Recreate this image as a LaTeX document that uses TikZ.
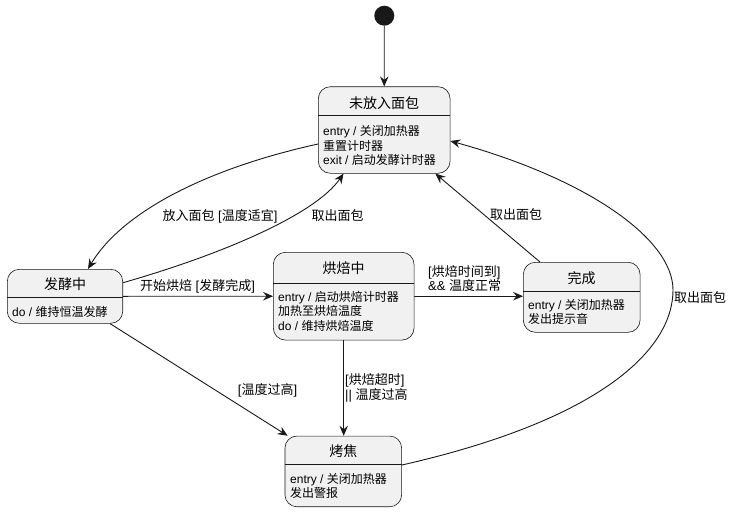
\documentclass[tikz,border=0pt]{standalone}
\usepackage{fontspec}
\setmainfont{Liberation Sans}
\newfontfamily\cjk{Noto Sans CJK SC}
\usetikzlibrary{arrows.meta}
\definecolor{boxfill}{HTML}{F1F1F1}
\definecolor{boxline}{HTML}{181818}
\tikzset{
  statebox/.style={draw=boxline, fill=boxfill, rounded corners=12pt, line width=0.6pt, inner sep=0pt},
  divider/.style={draw=boxline, line width=0.6pt},
  stitle/.style={font=\cjk\fontsize{14}{16}\selectfont, inner sep=0pt},
  sbody/.style={font=\fontsize{12}{14.5}\selectfont, align=left, anchor=north west, inner sep=0pt},
  lbl/.style={font=\fontsize{13}{14.5}\selectfont, inner sep=0pt},
  edge/.style={draw=boxline, line width=0.9pt, -{Stealth[length=10pt,width=8.5pt,inset=3.5pt]}},
}
\begin{document}
\begin{tikzpicture}[x=1pt,y=-1pt]
\useasboundingbox (0,0) rectangle (733,511);
% initial
\node[circle, fill=boxline, minimum size=20pt, inner sep=0pt] (s0) at (384.3,15.7) {};
% states
\node[statebox, minimum width=131.7pt, minimum height=86.6pt] (s1) at (384.2,130) {};
\draw[divider] (s1.west |- 0,115) -- (s1.east |- 0,115);
\node[stitle] (t1) at (384.2,102.7) {未放入面包};
\node[sbody] (b1) at (323,125.5) {entry / {\cjk 关闭加热器}\\{\cjk 重置计时器}\\exit / {\cjk 启动发酵计时器}};

\node[statebox, minimum width=115.4pt, minimum height=54pt] (s2) at (65,296.3) {};
\draw[divider] (s2.west |- 0,297.3) -- (s2.east |- 0,297.3);
\node[stitle] (t2) at (65,284.5) {发酵中};
\node[sbody] (b2) at (12,305.7) {do / {\cjk 维持恒温发酵}};

\node[statebox, minimum width=140.7pt, minimum height=87.7pt] (s3) at (343.7,296.2) {};
\draw[divider] (s3.west |- 0,283.3) -- (s3.east |- 0,283.3);
\node[stitle] (t3) at (343.7,268.3) {烘焙中};
\node[sbody] (b3) at (278,290.7) {entry / {\cjk 启动烘焙计时器}\\{\cjk 加热至烘焙温度}\\do / {\cjk 维持烘焙温度}};

\node[statebox, minimum width=116.7pt, minimum height=70pt] (s4) at (581.7,297.3) {};
\draw[divider] (s4.west |- 0,291.7) -- (s4.east |- 0,291.7);
\node[stitle] (t4) at (581.7,278.3) {完成};
\node[sbody] (b4) at (528,299) {entry / {\cjk 关闭加热器}\\{\cjk 发出提示音}};

\node[statebox, minimum width=116.7pt, minimum height=70.7pt] (s5) at (343.3,471.4) {};
\draw[divider] (s5.west |- 0,464) -- (s5.east |- 0,464);
\node[stitle] (t5) at (343.3,450.7) {烤焦};
\node[sbody] (b5) at (290,473) {entry / {\cjk 关闭加热器}\\{\cjk 发出警报}};

% transitions
\draw[edge] (s0) -- (s1);
\draw[edge] ([yshift=-14pt]s1.west) .. controls (200,170) and (120,215) .. ([xshift=23pt]s2.north);
\node[lbl] (l2) at (220,216) {{\cjk 放入面包} [{\cjk 温度适宜}]};
\draw[edge] ([yshift=13.6pt]s2.east) .. controls (220,255) and (315,215) .. ([xshift=-40.7pt]s1.south);
\node[lbl] (l3) at (337.5,216) {\cjk 取出面包};
\draw[edge] (s2.east) -- (s3.west);
\node[lbl] (l4) at (197.5,286.7) {{\cjk 开始烘焙} [{\cjk 发酵完成}]};
\draw[edge] ([xshift=45pt]s2.south) -- ([xshift=3pt]s5.north west);
\node[lbl] (l5) at (267.5,390.7) {[{\cjk 温度过高}]};
\draw[edge] (s3.south) -- (s3.south |- s5.north);
\node[lbl, align=left, anchor=west] (l6) at (345,388) {[{\cjk 烘焙超时}]\\|| {\cjk 温度过高}};
\draw[edge] (s3.east) -- (s4.west |- s3.east);
\node[lbl, align=left, anchor=west] (l7) at (428,278.3) {[{\cjk 烘焙时间到}]\\\&\& {\cjk 温度正常}};
\draw[edge] ([xshift=-41.7pt]s4.north) -- ([xshift=-15pt]s1.south east);
\node[lbl] (l8) at (516,215) {\cjk 取出面包};
\draw[edge] ([yshift=6.4pt]s5.east) .. controls (600,420) and (673,350) .. (673,290) .. controls (673,238) and (585,178) .. ([yshift=-11pt]s1.east);
\node[lbl, anchor=west] (l9) at (674,298) {\cjk 取出面包};
\end{tikzpicture}
\end{document}
